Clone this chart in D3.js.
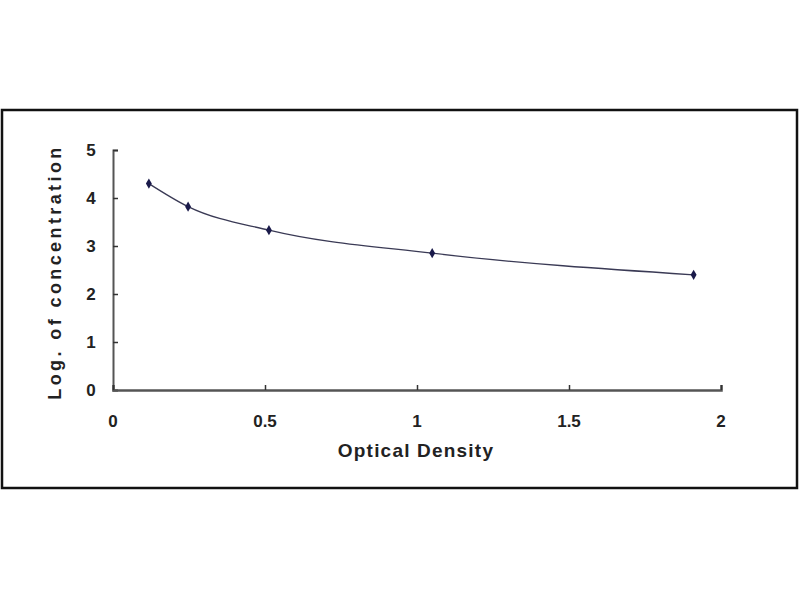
<!DOCTYPE html>
<html>
<head>
<meta charset="utf-8">
<script src="https://cdn.jsdelivr.net/npm/d3@7"></script>
<style>
  html, body { margin: 0; padding: 0; background: #fff; }
  svg text { font-family: Arial, "Liberation Sans", sans-serif; font-weight: bold; fill: #222; }
</style>
</head>
<body>
<div id="chart"></div>
<script>
// standard curve points (optical density vs log of concentration)
const odValues = [0.118, 0.247, 0.513, 1.05, 1.91];
const logConc = [4.30, 3.82, 3.33, 2.85, 2.40];
const xTicks = [0, 0.5, 1, 1.5, 2];
const yTicks = [0, 1, 2, 3, 4, 5];

const W = 800, H = 600;
const margin = { left: 113, right: 79, top: 150, bottom: 210 };

const svg = d3.select('#chart').append('svg')
  .attr('width', W)
  .attr('height', H);

// outer frame
svg.append('rect')
  .attr('x', 2).attr('y', 110)
  .attr('width', 795).attr('height', 378)
  .attr('fill', '#fff')
  .attr('stroke', '#111')
  .attr('stroke-width', 2.5);

const x = d3.scaleLinear().domain([0, 2]).range([margin.left, W - margin.right]);
const y = d3.scaleLinear().domain([0, 5]).range([H - margin.bottom, margin.top]);

const axisColor = '#555';

// y axis, ticks pointing inside
const gy = svg.append('g')
  .attr('transform', `translate(${x(0)},0)`)
  .call(d3.axisRight(y).tickValues(yTicks).tickSize(5).tickFormat(''));
gy.select('.domain').attr('stroke', axisColor).attr('stroke-width', 2);
gy.selectAll('.tick line').attr('stroke', '#333').attr('stroke-width', 1.5);

svg.append('g').selectAll('text')
  .data(yTicks)
  .join('text')
  .attr('x', 91)
  .attr('y', (d) => y(d))
  .attr('dy', '0.36em')
  .attr('text-anchor', 'middle')
  .attr('font-size', 17)
  .text((d) => d);

// x axis, ticks pointing up
const gx = svg.append('g')
  .attr('transform', `translate(0,${y(0)})`)
  .call(d3.axisTop(x).tickValues(xTicks).tickSize(5).tickFormat(''));
gx.select('.domain').attr('stroke', axisColor).attr('stroke-width', 2.5);
gx.selectAll('.tick line').attr('stroke', '#333').attr('stroke-width', 1.5);

svg.append('g').selectAll('text')
  .data(xTicks)
  .join('text')
  .attr('x', (d) => x(d))
  .attr('y', 427)
  .attr('text-anchor', 'middle')
  .attr('font-size', 17)
  .text((d) => d);

// axis titles
svg.append('text')
  .attr('x', 416)
  .attr('y', 457)
  .attr('text-anchor', 'middle')
  .attr('font-size', 19)
  .attr('letter-spacing', 1.2)
  .text('Optical Density');

svg.append('text')
  .attr('transform', 'translate(61,272) rotate(-90)')
  .attr('text-anchor', 'middle')
  .attr('font-size', 18)
  .attr('letter-spacing', 3.4)
  .text('Log. of concentration');

// fitted curve
const pts = odValues.map((v, i) => [v, logConc[i]]);
const line = d3.line()
  .x((d) => x(d[0]))
  .y((d) => y(d[1]))
  .curve(d3.curveMonotoneX);

svg.append('path')
  .datum(pts)
  .attr('fill', 'none')
  .attr('stroke', '#3a3a55')
  .attr('stroke-width', 1.3)
  .attr('d', line);

// markers
svg.append('g').selectAll('path')
  .data(pts)
  .join('path')
  .attr('transform', (d) => `translate(${x(d[0])},${y(d[1])})`)
  .attr('d', d3.symbol().type(d3.symbolDiamond).size(30))
  .attr('fill', '#1a1a4a');
</script>
</body>
</html>
